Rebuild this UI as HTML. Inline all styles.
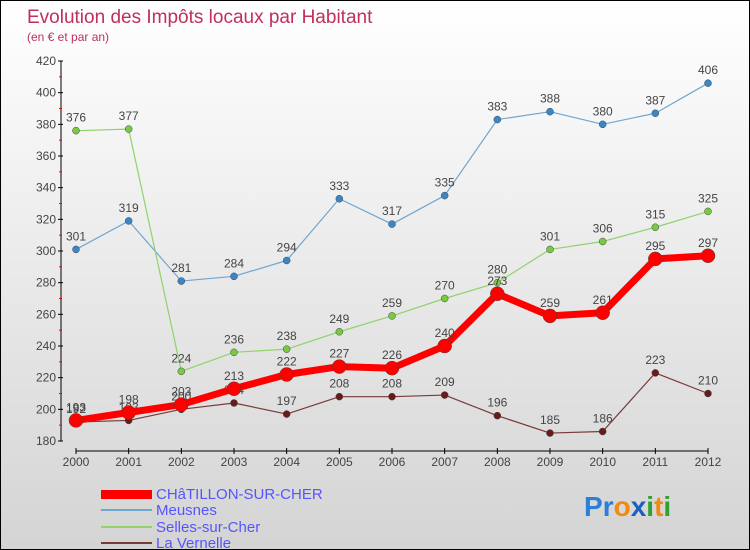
<!DOCTYPE html>
<html><head><meta charset="utf-8"><style>
body{margin:0}
#c{width:750px;height:550px;position:relative;box-sizing:border-box;border:1px solid #000;background:linear-gradient(#fff,#d4d4d4);font-family:"Liberation Sans",sans-serif;overflow:hidden}
text{font-family:"Liberation Sans",sans-serif}
</style></head><body>
<div id="c">
<svg id="s" width="750" height="550">
<text x="26" y="22" font-size="19" fill="#c0305a">Evolution des Impôts locaux par Habitant</text>
<text x="26" y="40" font-size="12" fill="#c0305a">(en € et par an)</text>
<text x="155" y="498" font-size="15" fill="#5555ff">CHâTILLON-SUR-CHER</text>
<text x="155" y="514" font-size="15" fill="#5555ff">Meusnes</text>
<text x="155" y="531" font-size="15" fill="#5555ff">Selles-sur-Cher</text>
<text x="155" y="547" font-size="15" fill="#5555ff">La Vernelle</text>
<rect x="100" y="489" width="51" height="9" fill="#f00"/>
<rect x="100" y="508" width="51" height="2" fill="#6fa6d0"/>
<rect x="100" y="525" width="51" height="2" fill="#8fd36a"/>
<rect x="100" y="541" width="51" height="2" fill="#7a3a3a"/>
<text x="583" y="515" font-size="28" font-weight="bold"><tspan fill="#2a7fd8">P</tspan><tspan fill="#2a7fd8">r</tspan><tspan fill="#f08a10">o</tspan><tspan fill="#1a60c0">x</tspan><tspan fill="#30a030">i</tspan><tspan fill="#f08a10">t</tspan><tspan fill="#30a030">i</tspan></text>
</svg>
</div>
<script>
const years=["2000","2001","2002","2003","2004","2005","2006","2007","2008","2009","2010","2011","2012"];
const yTicks=[180,200,220,240,260,280,300,320,340,360,380,400,420];
const chatillon=[193,198,203,213,222,227,226,240,273,259,261,295,297];
const meusnes=[301,319,281,284,294,333,317,335,383,388,380,387,406];
const selles=[376,377,224,236,238,249,259,270,280,301,306,315,325];
const vernelle=[192,193,200,204,197,208,208,209,196,185,186,223,210];
const NS="http://www.w3.org/2000/svg";
const svg=document.getElementById('s');
const X=i=>75+i*(707-75)/(years.length-1);
const Y=v=>440-(v-180)*(380/240);
function mk(t,a,p){const e=document.createElementNS(NS,t);for(const k in a)e.setAttribute(k,a[k]);(p||svg).appendChild(e);return e;}
const ax=mk('g',{});


mk('line',{x1:60,y1:Y(420),x2:60,y2:Y(180),stroke:'#000'},ax);
mk('line',{x1:75,y1:450,x2:707,y2:450,stroke:'#000'},ax);
yTicks.forEach((v,i)=>{
 mk('line',{x1:57,y1:Y(v),x2:62,y2:Y(v),stroke:'#000'},ax);
 if(i<yTicks.length-1)mk('line',{x1:58,y1:Y(v+10),x2:61,y2:Y(v+10),stroke:'#f00'},ax);
 const t=mk('text',{x:55,y:Y(v)+4,'font-size':12,fill:'#444','text-anchor':'end'},ax);
 
 
 t.textContent=v;
});
years.forEach((y,i)=>{
 mk('line',{x1:X(i),y1:447,x2:X(i),y2:453,stroke:'#000'},ax);
 const t=mk('text',{x:X(i),y:465,'font-size':12,fill:'#444','text-anchor':'middle'},ax);
 
 
 t.textContent=y;
});
function series(name,data,color,w,r,dot){
 const g=mk('g',{});
 
 
 mk('polyline',{points:data.map((v,i)=>X(i)+','+Y(v)).join(' '),fill:'none',stroke:color,'stroke-width':w,'stroke-linejoin':'round'},g);
 data.forEach((v,i)=>{
  const c=mk('circle',{cx:X(i),cy:Y(v),r:r,fill:dot,stroke:'#444','stroke-width':0.5},g);
  
  
  const t=mk('text',{x:X(i),y:Y(v)-9,'font-size':12,fill:'#444','text-anchor':'middle'},g);
  
  
  t.textContent=v;
 });
}
series('meusnes',meusnes,'#6fa6d0',1.2,3.5,'#3a86c8');
series('selles',selles,'#8fd36a',1.2,3.5,'#7ac943');
series('vernelle',vernelle,'#7a3a3a',1.2,3.5,'#6a1a1a');
series('chatillon',chatillon,'#f00',7,7,'#f00');
</script>
</body></html>
